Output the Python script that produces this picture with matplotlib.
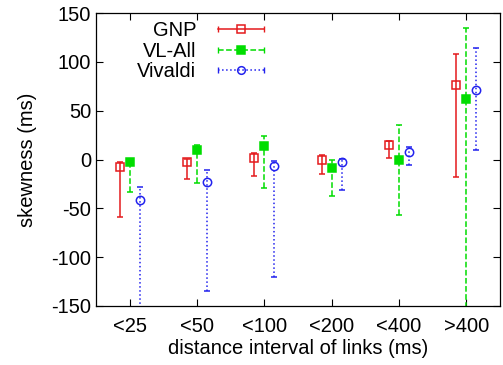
import matplotlib
matplotlib.use("Agg")
import matplotlib.pyplot as plt
from matplotlib.lines import Line2D
from matplotlib.legend_handler import HandlerLine2D, HandlerTuple
import numpy as np

plt.rcParams["font.family"] = ["Liberation Sans", "DejaVu Sans"]
plt.rcParams["font.size"] = 14.5
plt.rcParams["axes.unicode_minus"] = False

categories = ["<25", "<50", "<100", "<200", "<400", ">400"]

gnp_val = [-8, -3, 2, 0, 15, 76]
gnp_low = [-59, -20, -17, -15, 2, -18]
gnp_high = [-3, 1, 7, 5, 19, 108]

vl_val = [-3, 10, 14, -9, 0, 62]
vl_low = [-33, -24, -29, -37, -57, -160]
vl_high = [1, 15, 24, -1, 35, 135]

viv_val = [-41, -23, -7, -3, 8, 71]
viv_low = [-160, -135, -120, -31, -6, 10]
viv_high = [-28, -11, -2, 1, 13, 114]

x = np.arange(1, len(categories) + 1)
offset = 0.15

fig = plt.figure(figsize=(5.03, 3.65), dpi=100)
ax = fig.add_axes([0.191, 0.162, 0.803, 0.802])

series = [
    ("GNP", gnp_val, gnp_low, gnp_high, -offset, "#e41a1c", "s", "none", "-"),
    ("VL-All", vl_val, vl_low, vl_high, 0.0, "#00dd00", "s", "#00dd00", "--"),
    ("Vivaldi", viv_val, viv_low, viv_high, offset, "#2222ee", "o", "none", ":"),
]

handles = []
handler_map = {}
for name, val, low, high, dx, color, marker, mfc, ls in series:
    val = np.asarray(val, dtype=float)
    yerr = [val - np.asarray(low), np.asarray(high) - val]
    cont = ax.errorbar(x + dx, val, yerr=yerr, fmt=marker, color=color,
                       mfc=mfc, mec=color, ms=6, mew=1.1, elinewidth=1.1,
                       capsize=2.5, capthick=1.0, ecolor=color)
    for col in cont[2]:
        col.set_linestyle(ls)
    line = Line2D([], [], color=color, ls=ls, lw=1.1, marker="|", ms=5, mew=1.0)
    mark = Line2D([], [], color=color, ls="none", marker=marker, mfc=mfc,
                  mec=color, ms=5.5, mew=1.1)
    handler_map[line] = HandlerLine2D(numpoints=2)
    handler_map[mark] = HandlerLine2D(numpoints=1)
    handles.append((line, mark))

ax.legend(handles, [s[0] for s in series],
          handler_map={**handler_map, tuple: HandlerTuple(ndivide=1)},
          loc="upper right", bbox_to_anchor=(270 / 503, 1 - 21 / 365),
          bbox_transform=fig.transFigure, markerfirst=False,
          frameon=False, handlelength=2.9, handletextpad=0.75,
          labelspacing=0.08, borderpad=0, borderaxespad=0, fontsize=14.5)

ax.set_xlim(0.5, 6.5)
ax.set_ylim(-150, 150)
ax.set_xticks(x)
ax.set_xticklabels(categories)
ax.set_yticks(np.arange(-150, 151, 50))
ax.tick_params(direction="in", top=True, right=True, length=5, width=0.8, labelsize=14.5)
ax.tick_params(axis="x", pad=8)
ax.set_xlabel("distance interval of links (ms)", fontsize=14.5, labelpad=2)
ax.set_ylabel("skewness (ms)", fontsize=14.5, labelpad=10)
for sp in ax.spines.values():
    sp.set_linewidth(0.9)

fig.savefig("out.png", dpi=100)
